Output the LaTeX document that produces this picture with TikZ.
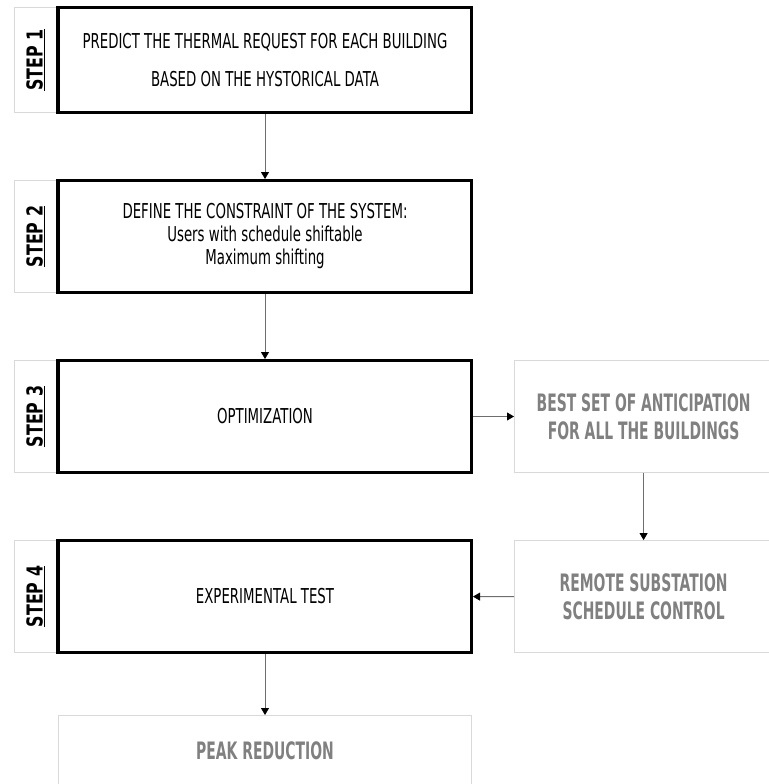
\documentclass[tikz,border=0pt]{standalone}
\usepackage{fontspec}
\setmainfont{DejaVu Sans}[FakeStretch=0.65]
\newfontfamily\stepfont{DejaVu Sans}[FakeStretch=0.72]
\newfontfamily\grayfont{DejaVu Sans}[FakeStretch=0.58]
\definecolor{boxgray}{RGB}{217,217,217}
\definecolor{textgray}{RGB}{128,128,128}
\definecolor{linegray}{RGB}{110,110,110}
\usetikzlibrary{positioning,arrows.meta}

\begin{document}
\begin{tikzpicture}[x=1pt,y=-1pt,
    every node/.style={inner sep=0pt},
    stepbox/.style={draw=black,line width=3pt,minimum width=413pt,minimum height=112pt,
        align=center,font=\fontsize{20.5}{23}\selectfont},
    steplabel/.style={draw=boxgray,line width=1pt,minimum width=42pt,
        font=\stepfont\bfseries\fontsize{22}{24}\selectfont},
    outbox/.style={draw=boxgray,line width=1.2pt,minimum height=112pt,align=center,
        text=textgray,font=\grayfont\bfseries\fontsize{24}{28}\selectfont},
    flow/.style={draw=linegray,line width=0.8pt,-{Triangle[color=black,length=7pt,width=8pt]}},
    node distance=65pt
    ]
    \useasboundingbox (0,0) rectangle (768,784);

    % the steps
    \node[stepbox,minimum height=105pt] (predict) at (265,60)
        {PREDICT THE THERMAL REQUEST FOR EACH BUILDING\\[15pt]BASED ON THE HYSTORICAL DATA};
    \node[stepbox,below=of predict] (constraint)
        {DEFINE THE CONSTRAINT OF THE SYSTEM:\\Users with schedule shiftable\\Maximum shifting};
    \node[stepbox,below=of constraint] (optim) {OPTIMIZATION};
    \node[stepbox,below=of optim] (exper) {EXPERIMENTAL TEST};

    % the step labels
    \foreach \n/\b/\h in {1/predict/105,2/constraint/112,3/optim/112,4/exper/112}
    \node[steplabel,minimum height=\h pt,left=0pt of \b] (step\n)
        {\rotatebox{90}{\underline{STEP \n}}};
    \foreach \b in {predict,constraint,optim,exper}
    \draw[line width=3pt] (\b.north west) -- (\b.south west);

    % the outcomes
    \node[outbox,minimum width=258pt,right=41pt of optim] (best)
        {BEST SET OF ANTICIPATION\\FOR ALL THE BUILDINGS};
    \node[outbox,minimum width=258pt,below=67pt of best] (remote)
        {REMOTE SUBSTATION\\SCHEDULE CONTROL};
    \node[outbox,minimum width=413pt,minimum height=70pt,below=61pt of exper] (peak)
        {PEAK REDUCTION};

    % the arrows
    \draw[flow] (predict) -- (constraint);
    \draw[flow] (constraint) -- (optim);
    \draw[flow] (optim) -- (best);
    \draw[flow] (best) -- (remote);
    \draw[flow] (remote) -- (exper);
    \draw[flow] (exper) -- (peak);
\end{tikzpicture}
\end{document}
